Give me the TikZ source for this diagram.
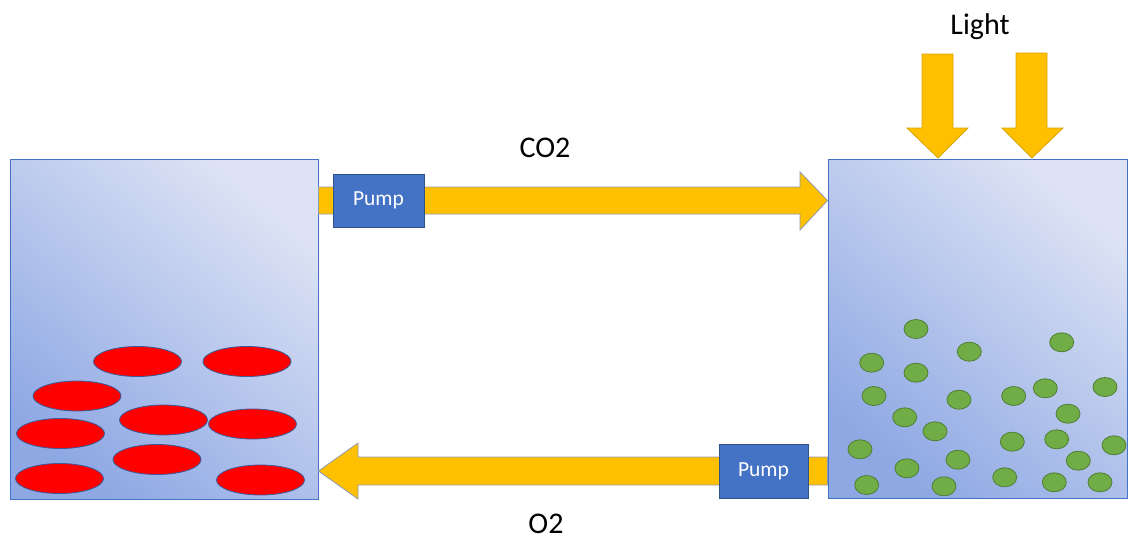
\documentclass[tikz,border=0pt]{standalone}
\usepackage{fontspec}
\setmainfont{Carlito}
\usetikzlibrary{calc,shapes.geometric}
\definecolor{tankdark}{HTML}{8EA8E4}
\definecolor{tanklight}{HTML}{DDE3F4}
\definecolor{tankline}{HTML}{4472C4}
\definecolor{gold}{HTML}{FFC000}
\definecolor{goldline}{HTML}{8E9BB3}
\definecolor{lightline}{HTML}{D9A300}
\definecolor{pumpfill}{HTML}{4472C4}
\definecolor{pumpline}{HTML}{2F528F}
\definecolor{cellred}{HTML}{FF0000}
\definecolor{cellline}{HTML}{3A5A9A}
\definecolor{algae}{HTML}{70AD47}
\definecolor{algaeline}{HTML}{507E32}
\tikzset{
  tank/.style={rectangle, draw=tankline, line width=0.9pt, top color=tanklight, bottom color=tankdark, shading angle=-40, inner sep=0pt},
  pumpbox/.style={rectangle, draw=pumpline, line width=0.9pt, fill=pumpfill, text=white, inner sep=0pt, font=\fontsize{21.5}{24}\selectfont},
  flow/.style={fill=gold, draw=goldline, line width=0.8pt, line join=miter},
  lightarrow/.style={fill=gold, draw=lightline, line width=0.8pt, line join=miter},
  cell/.style={ellipse, draw=cellline, line width=0.8pt, fill=cellred, minimum width=88pt, minimum height=30pt, inner sep=0pt},
  alga/.style={ellipse, draw=algaeline, line width=0.8pt, fill=algae, minimum width=24pt, minimum height=19pt, inner sep=0pt},
  lbl/.style={font=\fontsize{30}{36}\selectfont, inner sep=0pt}
}
\begin{document}
\begin{tikzpicture}[x=1pt,y=-1pt]
\useasboundingbox (0,0) rectangle (1128,539);
% tanks
\node[tank, minimum width=308pt, minimum height=340pt] (lt) at (164,329) {};
\node[tank, minimum width=299pt, minimum height=339pt] (rt) at (977.5,328.5) {};
% CO2 arrow
\draw[flow] (lt.east |- 0,187) -- (800,187) -- (800,172) -- (rt.west |- 0,200.5) -- (800,230) -- (800,214) -- (lt.east |- 0,214) -- cycle;
% O2 arrow
\draw[flow] (rt.west |- 0,457) -- (358,457) -- (358,443) -- (lt.east |- 0,471) -- (358,499) -- (358,485) -- (rt.west |- 0,485) -- cycle;
% light arrows
\draw[lightarrow] (922,54) -- (953,54) -- (953,128) -- (968,128) -- (938,158) -- (907,128) -- (922,128) -- cycle;
\draw[lightarrow] (1016,53) -- (1047,53) -- (1047,128) -- (1063,128) -- (1032,158) -- (1002,128) -- (1016,128) -- cycle;
% pumps
\node[pumpbox, minimum width=91pt, minimum height=53pt] (p1) at (378.5,200.5) {Pump};
\node[pumpbox, minimum width=89pt, minimum height=54pt] (p2) at (763.5,471) {Pump};
% labels
\node[lbl] (co2) at (545,148) {CO2};
\node[lbl] (o2) at (546,524) {O2};
\node[lbl] (light) at (980,27) {Light};
% red cells
\foreach \x/\y [count=\i] in {137.5/361.5, 247/361.5, 77/396, 163.5/420, 252.5/424, 60.5/433.5, 157/459.5, 59.5/478.5, 260.5/480}
  \node[cell] (c\i) at (\x,\y) {};
% algae
\foreach \x/\y [count=\i] in {916/329, 969.3/351.7, 1061.7/342.3, 871.7/362.7, 916/372.7, 874/396, 959/399.7, 1013.7/396, 1045.3/388.3, 1105/387, 904.7/417.3, 1068/413.7, 935/431.3, 860/449.3, 1012.3/441.7, 1056.7/439.3, 1114/445.3, 958/459.7, 907/468.3, 1078.3/460.7, 866.7/485, 944/486.3, 1004.7/477.3, 1054.3/482.3, 1100/482.3}
  \node[alga] (g\i) at (\x,\y) {};
\end{tikzpicture}
\end{document}
